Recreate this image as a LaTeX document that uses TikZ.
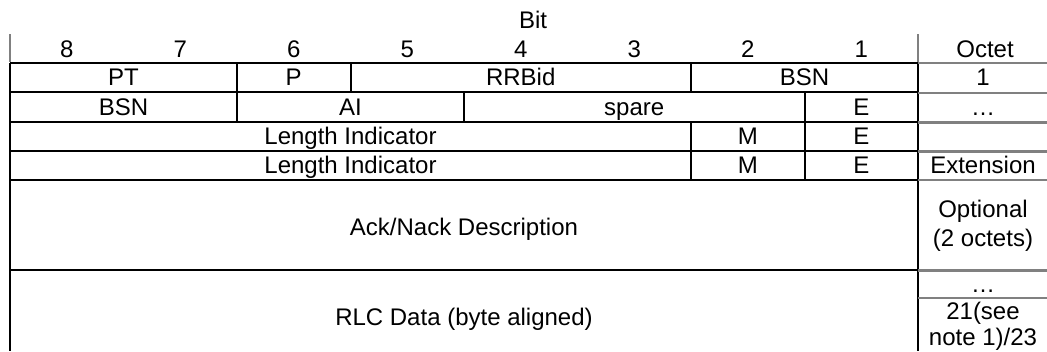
\documentclass[tikz,border=0pt]{standalone}
\usepackage{fontspec}
\setmainfont{Liberation Sans}
\begin{document}
\begin{tikzpicture}[x=0.75pt, y=-0.75pt,
    txt/.style={inner sep=0pt, anchor=base, font=\fontsize{18}{21.4}\selectfont},
    two/.style={txt, anchor=center, align=center},
    rule/.style={black, line width=1.5pt},
    grule/.style={gray, line width=1.8pt}]
  \useasboundingbox (0,0) rectangle (1047,351);
  \def\bw{113.5}

  % header
  \node[txt] (bit) at (533,28) {Bit};
  \foreach \b in {1,...,8} {
    \node[txt] (bit\b) at ({10 + \bw * (8.5 - \b)}, 57) {\b};
  }
  \node[txt] (octet) at (985,57) {Octet};
  \draw[grule] (10,34) -- (10,62) (918,34) -- (918,62);

  % frame and rows
  \draw[rule] (10,62.5) -- (10,351) (918,62.5) -- (918,351);
  \foreach \y in {62.5, 91.5, 121.5, 150.5, 179.5, 269.5}
    \draw[rule] (10,\y) -- (918,\y);
  \foreach \y in {63, 93, 122.5, 151.5, 180, 270.5, 298}
    \draw[grule] (918,\y) -- (1047,\y);

  % field borders
  \draw[rule] (237,62.5) -- (237,91.5) (350.5,62.5) -- (350.5,91.5) (691,62.5) -- (691,91.5);
  \draw[rule] (237,91.5) -- (237,121.5) (464,91.5) -- (464,121.5) (804.5,91.5) -- (804.5,121.5);
  \draw[rule] (691,121.5) -- (691,179.5) (804.5,121.5) -- (804.5,179.5);

  % octet 1
  \node[txt] (pt) at (123.5,85) {PT};
  \node[txt] (p) at (293.75,85) {P};
  \node[txt] (rrbid) at (520.75,85) {RRBid};
  \node[txt] (bsnA) at (804.5,85) {BSN};
  \node[txt] (oct1) at (983,85) {1};

  % octet 2
  \node[txt] (bsnB) at (123.5,115) {BSN};
  \node[txt] (ai) at (350.5,115) {AI};
  \node[txt] (spare) at (634.25,115) {spare};
  \node[txt] (eA) at (861.25,115) {E};
  \node[txt] (octdotsA) at (983,115) {…};

  % length indicators
  \foreach \y/\n in {144/1, 173/2} {
    \node[txt] (li\n) at (350.5,\y) {Length Indicator};
    \node[txt] (m\n) at (747.75,\y) {M};
    \node[txt] (e\n) at (861.25,\y) {E};
  }
  \node[txt] (octext) at (983,173) {Extension};

  % ack/nack and data
  \node[txt] (ack) at (464,235) {Ack/Nack Description};
  \node[two] (optional) at (983,226) {Optional\\(2 octets)};
  \node[txt] (rlc) at (464,325) {RLC Data (byte aligned)};
  \node[txt] (octdotsB) at (983,292) {…};
  \node[two, font=\fontsize{18}{19.5}\selectfont] (octlast) at (983,326) {21(see\\note 1)/23};
\end{tikzpicture}
\end{document}
